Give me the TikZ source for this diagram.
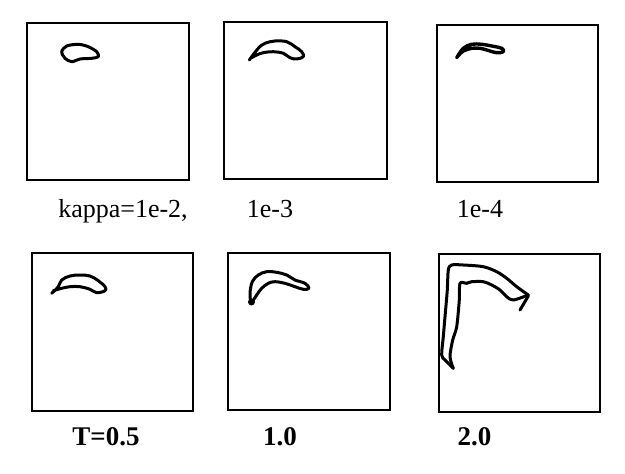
\documentclass[tikz,border=0pt]{standalone}
\usepackage{fontspec}
\setmainfont{Liberation Serif}

\begin{document}
\begin{tikzpicture}[x=1pt, y=-1pt,
  panel/.style={draw=black, line width=2.5pt},
  curve/.style={draw=black, line width=3pt, line join=round, line cap=round},
  lbl/.style={anchor=base, inner sep=0pt, font=\fontsize{26}{31}\selectfont},
  blbl/.style={lbl, font=\fontsize{27}{32}\selectfont\bfseries}
]
  \useasboundingbox (0,0) rectangle (625,474);

  % panels, kappa row
  \draw[panel] (27,23) rectangle (189,180);
  \draw[panel] (224,22) rectangle (387,179);
  \draw[panel] (437,25) rectangle (598,182);
  % panels, T row
  \draw[panel] (32,253) rectangle (193,411);
  \draw[panel] (228,253) rectangle (390,410);
  \draw[panel] (439,254) rectangle (600,412);

  % interfaces
  \draw[curve] plot[smooth cycle, tension=0.5] coordinates {
    (61.7,51.7) (66.7,46) (78.3,44.3) (88.3,46.7) (96.7,51.7)
    (98.3,56.7) (91.7,58.3) (80,59) (71.7,61.7) (65,58.3)};
  \draw[curve] plot[smooth, tension=0.6] coordinates {
    (249.3,60) (258.3,48.3) (265,43.3) (275,41) (286.7,41.7) (295,46.7)
    (301.7,51.7) (303.3,56.7) (296.7,59) (290,57.7) (283.3,53.3)
    (273.3,51.7) (263.3,52.7) (256.7,55) (251.7,57.7)};
  \draw[curve, line width=3.4pt] plot[smooth cycle, tension=0.6] coordinates {
    (456.7,57.7) (463.3,48.3) (471.7,44.3) (481.7,44.3) (491.7,46)
    (501.7,48.3) (503.3,51.7) (496.7,52.7) (486.7,50) (480,48.3)
    (471.7,48.3) (463.3,51) (458.3,55.7)};
  \draw[curve] plot[smooth, tension=0.6] coordinates {
    (51.7,293.3) (58.3,286.7) (61.7,280) (70,276) (80,275) (90,276)
    (98.3,280.7) (105,286.7) (105,290.7) (96.7,292.7) (90,289.3)
    (80,286.7) (70,286.7) (61.7,288.3) (53.3,290.7)};
  \draw[curve] plot[smooth cycle, tension=0.6] coordinates {
    (251,302.7) (250,293.3) (252.3,281.7) (258.3,275) (266.7,271.7)
    (276.7,272.3) (286.7,275) (295,280) (305,283.3) (309,288.3)
    (303.3,289.3) (295,286.7) (285,283.3) (275,281.7) (268.3,283.3)
    (261.7,288.3) (256.7,295) (252.3,301.7)};
  \fill (251.5,302) circle (3.5pt);
  \draw[curve] plot[smooth, tension=0.5] coordinates {
    (453.3,368.3) (445,360) (441.7,355) (443.3,336.7) (445,316.7)
    (447.3,290) (448.3,270) (451.7,265) (463.3,265) (483.3,266.7)
    (496.7,271.7) (506.7,278.3) (516.7,286.7) (528.3,295)};
  \draw[curve] plot[smooth, tension=0.5] coordinates {
    (528.3,295) (513.3,300) (506.7,296.7) (500,290) (491.7,285)
    (483.3,281.7) (471.7,281.7) (466.7,283.3) (460,283.3) (459.3,300)
    (456.7,326.7) (452.7,340) (450,356.7) (453.3,368.3)};
  \draw[curve] (528.3,296) -- (520,310);

  % labels
  \node[lbl] (k2) at (123,217) {kappa=1e-2,};
  \node[lbl] (k3) at (270,217) {1e-3};
  \node[lbl] (k4) at (480,217) {1e-4};
  \node[blbl] (t05) at (106,445) {T=0.5};
  \node[blbl] (t10) at (280,445) {1.0};
  \node[blbl] (t20) at (474.5,445) {2.0};
\end{tikzpicture}
\end{document}
